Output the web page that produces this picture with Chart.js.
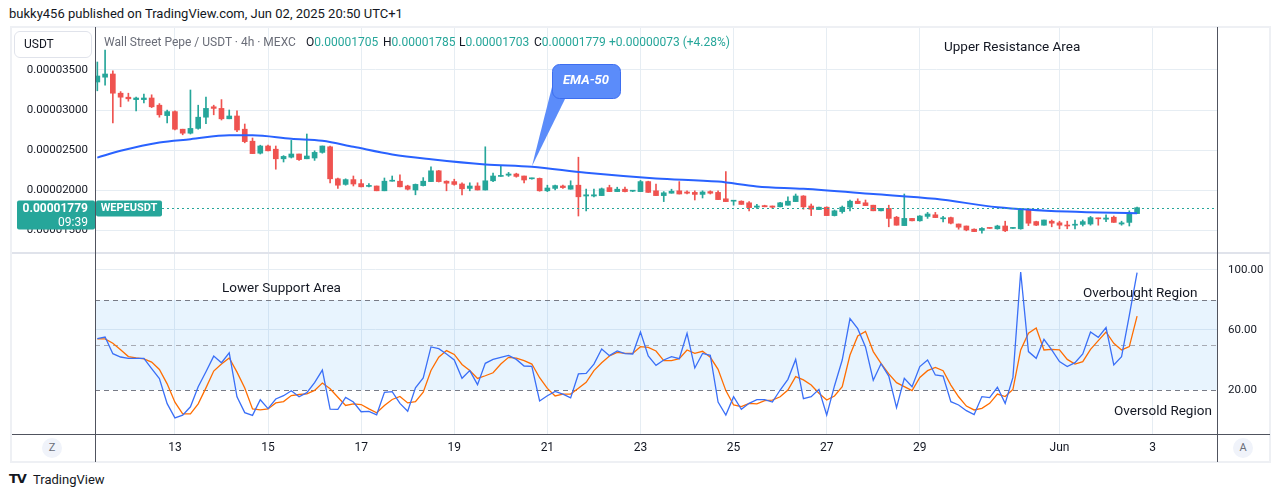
<!DOCTYPE html>
<html>
<head>
<meta charset="utf-8">
<script src="https://cdn.jsdelivr.net/npm/chart.js@4.4.1/dist/chart.umd.min.js"></script>
<style>
body { margin:0; width:1281px; height:497px; background:#fff; position:relative; overflow:hidden; font-family:Roboto, "Noto Sans", sans-serif; color:#131722; }
.abs { position:absolute; white-space:nowrap; }
canvas { position:absolute; }
.g { color:#26a69a; }
.line { position:absolute; background:#50535e; }
</style>
</head>
<body>

<canvas id="price" width="1205" height="226" style="left:12px;top:27px"></canvas>
<canvas id="stoch" width="1258" height="209" style="left:12px;top:253px"></canvas>

<!-- frame -->
<div class="abs" style="left:10px;top:26px;width:1261px;height:437px;border:2px solid #eef0f4;box-sizing:border-box"></div>
<div class="abs" style="left:12px;top:252px;width:1258px;height:2px;background:#e0e3eb"></div>
<div class="line" style="left:95px;top:27px;width:1px;height:435px"></div>
<div class="line" style="left:1217px;top:27px;width:1px;height:435px"></div>
<div class="line" style="left:12px;top:434px;width:1258px;height:1px"></div>

<div class="abs" style="left:9px;top:6px;font-size:13px">bukky456 published on TradingView.com, Jun 02, 2025 20:50 UTC+1</div>

<div class="abs" style="left:14px;top:31px;width:78px;height:27px;border:1px solid #e0e3eb;border-radius:6px;box-sizing:border-box;font-size:12px;line-height:25px;padding-left:9px">USDT</div>

<div class="abs" style="left:104px;top:35px;font-size:12px;color:#6a6d78">Wall Street Pepe / USDT · 4h · MEXC</div>
<div class="abs" style="left:306px;top:35px;font-size:12px">O<span class="g">0.00001705</span></div>
<div class="abs" style="left:383px;top:35px;font-size:12px">H<span class="g">0.00001785</span></div>
<div class="abs" style="left:459px;top:35px;font-size:12px">L<span class="g">0.00001703</span></div>
<div class="abs" style="left:534px;top:35px;font-size:12px">C<span class="g">0.00001779</span></div>
<div class="abs g" style="left:609px;top:35px;font-size:12px">+0.00000073 (+4.28%)</div>

<div class="abs" style="left:944px;top:38px;font-size:13.5px">Upper Resistance Area</div>
<div class="abs" style="left:222px;top:279px;font-size:13.5px">Lower Support Area</div>
<div class="abs" style="left:1083px;top:284px;font-size:13.5px">Overbought Region</div>
<div class="abs" style="left:1114px;top:402px;font-size:13.5px">Oversold Region</div>

<div class="abs" style="left:42px;top:438px;width:20px;height:20px;border-radius:10px;background:#f0f3fa;font-size:11px;line-height:20px;text-align:center;color:#6a6d78">Z</div>
<div class="abs" style="left:1233px;top:438px;width:20px;height:20px;border-radius:10px;background:#f0f3fa;font-size:11px;line-height:20px;text-align:center;color:#6a6d78">A</div>

<div class="abs" style="left:9px;top:471px;font-size:13px;font-weight:900;font-family:'DejaVu Sans';letter-spacing:-1px">TV</div>
<div class="abs" style="left:33px;top:472px;font-size:13px">TradingView</div>

<script>
// prices in units of 1e-6 USDT, one candle per 4h, index 10 = May 13 00:00
const PRICE_SCALE = 1e-6;

const candleO = [33.5,34.1,34.5,32.1,31.6,31.3,31.3,31.5,30.6,29.3,
  29.8,27.6,27.1,27.7,29.1,30.4,30.2,28.9,29.25,27.6,
  26.1,24.6,25.5,25.1,23.9,24.1,24.5,23.9,24.0,24.7,
  25.4,21.4,20.7,21.3,20.8,20.45,20.5,19.9,21.1,21.1,
  20.5,20.0,20.55,21.05,22.4,21.1,21.05,20.75,20.2,20.5,
  20.0,21.15,21.7,21.85,22.0,21.75,21.4,21.45,19.9,20.2,
  20.5,20.1,20.6,19.25,19.25,19.3,20.3,19.8,20.1,19.85,
  19.8,21.05,19.9,19.3,19.6,19.9,19.75,19.7,19.45,19.8,
  19.7,18.9,18.6,18.6,18.4,17.85,18.05,18.0,17.9,18.1,
  18.55,19.25,18.0,17.55,17.85,16.8,17.3,17.85,18.6,18.4,
  18.1,17.4,17.7,16.6,15.55,16.45,16.15,16.7,16.9,16.4,
  16.55,15.75,15.5,15.1,14.95,15.25,15.15,15.5,15.2,15.15,
  17.6,16.05,15.6,16.1,15.9,15.6,15.6,15.7,15.75,16.5,
  16.35,16.6,15.75,15.95,17.05];
const candleH = [36,37.5,34.9,32.3,32.1,31.6,32.0,31.9,30.8,30.0,
  29.9,27.6,32.5,30.6,31.6,30.6,31.3,30.0,29.9,28.25,
  26.5,25.6,25.6,25.5,24.3,26.2,24.5,27.0,24.9,25.5,
  25.5,21.5,21.4,21.75,21.3,20.8,20.5,21.5,21.75,21.9,
  20.6,20.75,21.55,22.9,22.45,21.15,21.35,20.9,20.9,20.9,
  25.4,22.1,23.0,22.2,22.1,21.75,21.5,21.5,20.6,20.6,
  20.6,21.15,24.1,20.1,20.1,20.25,20.6,20.35,20.35,19.95,
  21.2,21.1,20.75,19.8,20.1,21.05,19.9,19.9,19.9,19.9,
  19.9,22.3,18.7,18.65,18.55,18.2,18.1,18.0,18.45,19.15,
  19.5,19.3,18.25,17.85,17.9,17.5,18.0,18.75,18.9,18.75,
  18.1,17.7,18.1,16.7,19.5,16.45,16.8,17.2,17.2,16.7,
  16.6,15.75,15.5,15.15,15.3,15.25,15.6,16.1,15.3,17.6,
  17.65,16.1,16.25,16.25,16.1,16.1,16.25,16.25,16.7,16.5,
  16.9,16.75,16.1,17.4,17.85];
const candleL = [32.4,33.1,28.4,30.4,31.1,29.9,30.9,30.3,29.1,28.4,
  27.5,26.9,27.0,27.6,28.3,29.4,28.75,28.9,27.3,25.9,
  24.55,24.5,24.9,22.6,23.5,24.0,23.7,23.9,23.7,24.6,
  20.9,20.2,20.6,20.5,20.4,20.4,19.9,19.9,21.1,20.4,
  20.0,19.4,20.5,21.05,21.0,19.9,20.6,19.4,19.9,20.0,
  20.0,21.05,21.7,21.7,21.6,20.9,21.35,19.85,19.8,20.0,
  20.2,20.1,16.75,17.4,19.15,19.3,19.8,19.8,19.75,19.8,
  19.8,19.7,19.3,18.55,19.6,19.5,19.5,18.75,19.0,19.5,
  18.8,18.55,18.1,18.2,17.4,17.7,17.9,17.7,17.9,18.1,
  18.55,17.6,16.8,17.55,16.8,16.75,17.1,17.4,18.3,18.05,
  17.4,17.4,15.4,15.6,15.55,16.15,16.1,16.45,16.55,16.0,
  15.75,15.1,14.9,14.8,14.6,15.2,15.1,14.8,15.2,15.1,
  15.55,15.55,15.6,15.4,15.15,15.15,15.15,15.5,15.6,15.6,
  16.05,15.95,15.6,15.5,17.03];
const candleC = [34.25,34.5,32.1,31.6,31.4,31.5,31.5,30.4,29.4,29.8,
  27.6,27.1,27.7,29.1,30.2,30.2,28.9,29.25,27.5,26.05,
  24.55,25.5,24.9,23.9,24.2,24.5,23.8,24.25,24.7,25.5,
  21.4,20.6,21.3,20.75,20.4,20.5,19.9,21.1,21.15,20.4,
  20.1,20.7,21.1,22.4,21.05,20.85,20.7,20.15,20.5,20.0,
  21.15,21.75,21.75,22.0,21.7,21.25,21.5,19.9,20.25,20.55,
  20.3,20.55,19.15,19.4,19.4,20.15,19.8,20.1,19.8,19.9,
  21.05,19.7,19.3,19.65,19.85,19.5,19.6,19.45,19.75,19.6,
  18.8,18.55,18.7,18.2,17.8,18.0,17.9,17.85,18.4,18.6,
  19.25,17.9,17.6,17.85,16.8,17.4,17.85,18.6,18.3,18.05,
  17.4,17.7,16.45,15.6,16.45,16.15,16.75,17.0,16.55,16.5,
  15.85,15.35,15.0,14.8,15.2,15.2,15.5,14.9,15.3,17.6,
  15.85,15.6,16.25,15.85,15.6,15.5,15.7,16.05,16.55,16.4,
  16.5,15.95,15.9,17.0,17.79];

// EMA-50 read at some candle indexes
const emaIdx = [0,3,8,12,17,20,25,29,33,38,43,50,56,63,72,80,85,91,100,108,116,125,134];
const emaVal = [24.05,24.9,25.95,26.35,26.85,26.85,26.4,26.15,25.4,24.45,23.85,23.2,22.9,22.15,21.45,21.05,20.45,20.15,19.5,18.9,17.85,17.3,17.1];

const stochK = [54.2,55.3,44.2,42,41.1,41.1,41.1,34.2,27.6,10.9,
  1.4,3.2,8.8,22.2,32.2,42.6,38.2,44.8,15.5,4.9,
  3.1,13.5,7.6,14,16.2,19.5,15.5,18.2,24.9,33.3,
  7.3,7.1,15.1,12,5.5,5.8,3.5,18.4,18.9,11.1,
  5.8,21.5,28,48.7,47.6,44,40,27.8,32.9,23.6,
  37.8,40.4,41.8,43.1,40.4,36,35.8,12.7,16.2,19.1,
  17.3,14.7,30.7,31.1,37.3,47.3,42.9,46,44.2,44,
  58.7,42.7,36.4,40,42.2,40.9,57.8,34.7,44.4,43.1,
  12,3.3,15.5,7.1,11.1,13.6,13.6,12,20,27.1,
  40.4,14.2,15.5,20.4,3.3,22.7,40,67.6,60.9,48.7,
  26.5,37.5,29.3,8.2,27.8,22.2,35.6,40,30,29.3,
  12.2,10,6.2,3.6,15.6,14.9,21.8,11.1,28.4,98.7,
  45.6,41.1,53.8,46.7,38.9,35.6,38.2,44,58.7,55.1,
  61.6,36.7,42.2,69.8,98.2];
const stochD = [54.1,54.1,51.2,46.8,42.3,41.4,40.8,38.6,33.7,24.1,
  11.9,4.1,4.1,10.8,21.4,32.6,37.4,41.4,31.9,21.4,
  7.4,6.8,7.4,11.4,12.3,16.3,17,17.4,19.7,24.6,
  20.8,15.2,9.7,10.8,10.3,7.4,4.8,9.7,13.7,15.7,
  11.4,12.3,18.6,33,41.9,46.3,43.7,37,33,27.7,
  29.5,31.5,37.3,41.8,41.3,39.6,37.3,28.2,21.1,16,
  17.3,17.3,21.1,25.1,32.9,38.2,42.7,45.1,44.4,44.4,
  48.9,48.4,46,39.6,39.6,40.9,46.7,44.4,45.8,41.8,
  33.8,19.6,10,8.9,11.1,10.7,12.9,13.3,15.5,20,
  28.9,26.7,23.3,17.8,13.3,16,22.2,43.3,56,59.1,
  45.6,37.8,30.7,24.9,22.2,19.6,28.4,32.9,35.1,32.9,
  23.3,15.5,9.3,6.7,7.8,11.1,17.3,15.6,20.4,46.7,
  57.8,61.3,46.7,47.1,46.7,40.4,37.3,38.9,47.1,52.9,
  58.7,51.1,46.7,48.9,69.3];

const dayIdx = [10,22,34,46,58,70,82,94,106,124,136];
const dayLabels = ['13','15','17','19','21','23','25','27','29','Jun','3'];
const priceTicks = [15,20,25,30,35];
const stochTicks = [20,60,100];

const up = '#26a69a', down = '#ef5350';
const gridCol = '#e6edf3';
const xMin = -0.3, xMax = 144.3;
const idx = candleO.map((_, i) => i);
const col = idx.map(i => candleC[i] >= candleO[i] ? up : down);
const lastClose = candleC[candleC.length - 1];

function rrect(ctx, x, y, w, h, r) {
    ctx.beginPath();
    ctx.moveTo(x + r, y);
    ctx.arcTo(x + w, y, x + w, y + h, r);
    ctx.arcTo(x + w, y + h, x, y + h, r);
    ctx.arcTo(x, y + h, x, y, r);
    ctx.arcTo(x, y, x + w, y, r);
    ctx.closePath();
}

const priceDecor = {
    id: 'priceDecor',
    afterDraw(chart) {
        const ctx = chart.ctx, xs = chart.scales.x, ys = chart.scales.y;
        const ly = Math.round(ys.getPixelForValue(lastClose)) + 0.5;
        ctx.save();
        // dotted last price line
        ctx.strokeStyle = up;
        ctx.lineWidth = 1;
        ctx.setLineDash([2, 3]);
        ctx.beginPath();
        ctx.moveTo(150, ly);
        ctx.lineTo(chart.chartArea.right, ly);
        ctx.stroke();
        ctx.setLineDash([]);
        // price label on the axis
        ctx.fillStyle = up;
        rrect(ctx, 5, ly - 8, 78, 29, 2);
        ctx.fill();
        rrect(ctx, 84, ly - 8, 66, 16, 2);
        ctx.fill();
        ctx.fillStyle = '#fff';
        ctx.textBaseline = 'middle';
        ctx.font = 'bold 12px Roboto';
        ctx.textAlign = 'right';
        ctx.fillText((lastClose * PRICE_SCALE).toFixed(8), 76, ly);
        ctx.font = '12px Roboto';
        ctx.fillText('09:39', 76, ly + 14);
        ctx.font = 'bold 11px Roboto';
        ctx.textAlign = 'center';
        ctx.fillText('WEPEUSDT', 117, ly);
        // EMA-50 callout
        const tipX = xs.getPixelForValue(56), tipY = ys.getPixelForValue(22.95);
        ctx.fillStyle = '#5b8cfa';
        ctx.strokeStyle = '#3d6ef0';
        ctx.beginPath();
        ctx.moveTo(540, 60);
        ctx.lineTo(554, 70);
        ctx.lineTo(tipX, tipY);
        ctx.closePath();
        ctx.fill();
        rrect(ctx, 540.5, 37.5, 68, 34, 7);
        ctx.fill();
        ctx.stroke();
        ctx.fillStyle = '#fff';
        ctx.font = 'italic bold 13px Roboto';
        ctx.textAlign = 'center';
        ctx.fillText('EMA-50', 574, 54);
        ctx.restore();
    }
};

new Chart(document.getElementById('price'), {
    type: 'bar',
    data: {
        datasets: [{
            type: 'line',
            label: 'EMA-50',
            data: emaIdx.map((x, i) => ({ x: x, y: emaVal[i] })),
            borderColor: '#2962ff',
            borderWidth: 2,
            pointRadius: 0,
            cubicInterpolationMode: 'monotone',
            order: 0
        }, {
            label: 'body',
            data: idx.map(i => ({ x: i, y: [candleO[i], candleC[i]] })),
            backgroundColor: col,
            barThickness: 5,
            minBarLength: 1,
            grouped: false,
            order: 1
        }, {
            label: 'wick',
            data: idx.map(i => ({ x: i, y: [candleL[i], candleH[i]] })),
            backgroundColor: col,
            barThickness: 1,
            grouped: false,
            order: 2
        }]
    },
    options: {
        responsive: false,
        animation: false,
        layout: { padding: 0 },
        plugins: { legend: { display: false }, tooltip: { enabled: false } },
        scales: {
            x: {
                type: 'linear', min: xMin, max: xMax, offset: false,
                afterBuildTicks: s => { s.ticks = dayIdx.map(v => ({ value: v })); },
                ticks: { display: false },
                grid: { color: gridCol, drawTicks: false, offset: false },
                border: { display: false },
                afterFit: s => { s.height = 0; s.paddingLeft = 0; s.paddingRight = 0; }
            },
            y: {
                position: 'left', min: 12.125, max: 40.375,
                afterBuildTicks: s => { s.ticks = priceTicks.map(v => ({ value: v })); },
                ticks: {
                    callback: v => (v * PRICE_SCALE).toFixed(8),
                    color: '#131722', font: { size: 11.5, family: 'Roboto' }, padding: 7
                },
                grid: { color: gridCol, drawTicks: false },
                border: { display: false },
                afterFit: s => { s.width = 83; s.paddingTop = 0; s.paddingBottom = 0; }
            }
        }
    },
    plugins: [priceDecor]
});

const stochBands = {
    id: 'stochBands',
    beforeDatasetsDraw(chart) {
        const ctx = chart.ctx, ys = chart.scales.y, a = chart.chartArea;
        const y80 = ys.getPixelForValue(80), y20 = ys.getPixelForValue(20), y50 = ys.getPixelForValue(50);
        ctx.save();
        ctx.fillStyle = 'rgba(33,150,243,0.1)';
        ctx.fillRect(a.left, y80, a.right - a.left, y20 - y80);
        ctx.lineWidth = 1;
        ctx.setLineDash([5, 4]);
        [[y80, '#787b86'], [y50, '#a7aab3'], [y20, '#787b86']].forEach(([y, c]) => {
            ctx.strokeStyle = c;
            ctx.beginPath();
            ctx.moveTo(a.left, Math.round(y) + 0.5);
            ctx.lineTo(a.right, Math.round(y) + 0.5);
            ctx.stroke();
        });
        ctx.restore();
    }
};

new Chart(document.getElementById('stoch'), {
    type: 'line',
    data: {
        datasets: [{
            label: 'K',
            data: stochK.map((v, i) => ({ x: i, y: v })),
            borderColor: '#3a6ff7',
            borderWidth: 1.3,
            pointRadius: 0
        }, {
            label: 'D',
            data: stochD.map((v, i) => ({ x: i, y: v })),
            borderColor: '#ff6d00',
            borderWidth: 1.3,
            pointRadius: 0
        }]
    },
    options: {
        responsive: false,
        animation: false,
        layout: { padding: { left: 83 } },
        plugins: { legend: { display: false }, tooltip: { enabled: false } },
        scales: {
            x: {
                type: 'linear', min: xMin, max: xMax,
                afterBuildTicks: s => { s.ticks = dayIdx.map(v => ({ value: v })); },
                ticks: {
                    callback: v => dayLabels[dayIdx.indexOf(v)],
                    color: '#131722', font: { size: 12, family: 'Roboto' },
                    padding: 7, maxRotation: 0, autoSkip: false
                },
                grid: { color: gridCol, drawTicks: false },
                border: { display: false },
                afterFit: s => { s.height = 28; s.paddingLeft = 0; s.paddingRight = 0; }
            },
            y: {
                position: 'right', min: -9.333, max: 111.333,
                afterBuildTicks: s => { s.ticks = stochTicks.map(v => ({ value: v })); },
                ticks: {
                    callback: v => v.toFixed(2),
                    color: '#131722', font: { size: 11.5, family: 'Roboto' }, padding: 11
                },
                grid: { color: c => (c.tick && c.tick.value === 20) ? 'rgba(0,0,0,0)' : gridCol, drawTicks: false },
                border: { display: false },
                afterFit: s => { s.width = 53; s.paddingTop = 0; s.paddingBottom = 0; }
            }
        }
    },
    plugins: [stochBands]
});
</script>
</body>
</html>
